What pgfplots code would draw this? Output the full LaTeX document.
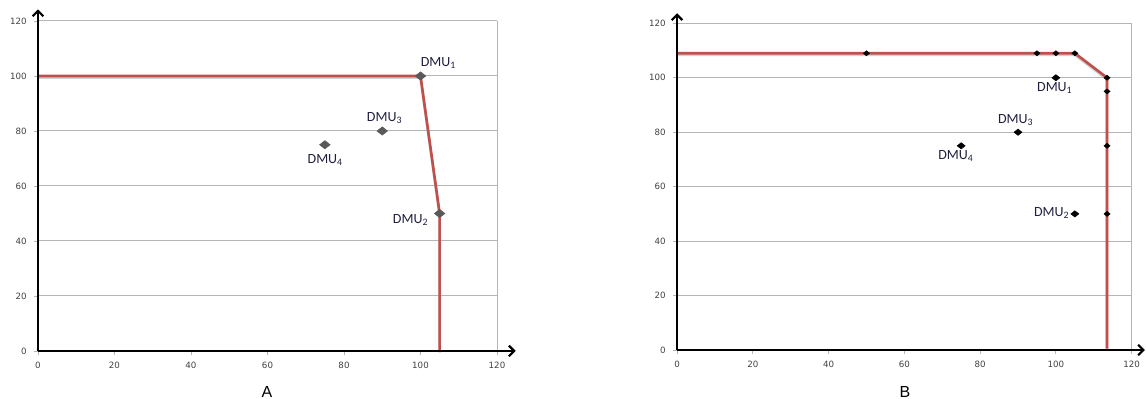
\documentclass[border=0pt]{standalone}
\usepackage{pgfplots}
\pgfplotsset{compat=1.18}
\usepackage{fontspec}
\setmainfont{Carlito}
\newfontfamily\tickfont{DejaVu Sans}
\newfontfamily\titlefont{Liberation Sans}
\usetikzlibrary{arrows.meta}
\definecolor{frontier}{HTML}{C0504D}
\definecolor{gridgray}{HTML}{B5B5B5}
\definecolor{ticktext}{HTML}{404040}
\definecolor{markgray}{HTML}{595959}
\definecolor{dmutext}{HTML}{1F1F3F}

\pgfplotsset{
  dea/.style={
    scale only axis, clip=false,
    xmin=0, xmax=120, ymin=0, ymax=120,
    xtick={0,20,...,120}, ytick={0,20,...,120},
    axis lines*=left, axis line style={draw=none},
    ymajorgrids, grid style={gridgray, line width=0.75pt},
    tick align=outside, major tick length=3pt,
    tick style={gridgray, line width=0.6pt},
    ticklabel style={font=\tickfont\fontsize{6.5}{7}\selectfont, text=ticktext},
    yticklabel style={xshift=-2pt},
    xticklabel style={yshift=-2pt},
    /pgf/number format/assume math mode=true,
    anchor=south west,
  },
}
\tikzset{dmu/.style={font=\fontsize{10.5}{12}\selectfont, text=dmutext, anchor=center}}

\begin{document}
\begin{tikzpicture}
\useasboundingbox (0,0) rectangle (859.5pt,299.25pt);

% ---------- A ----------
\begin{axis}[dea, at={(28.5pt,36pt)}, width=344.25pt, height=247.5pt]
  \draw[gridgray, line width=0.75pt] (axis cs:120,0) -- (axis cs:120,120);
  \addplot[black!30, line width=2pt, opacity=0.6, yshift=-1.2pt, forget plot] coordinates {(0,100) (100,100) (105,50) (105,0)};
  \addplot[frontier, line width=2pt, line join=round] coordinates {(0,100) (100,100) (105,50) (105,0)};
  \addplot[only marks, mark=diamond*, mark size=3.1pt, mark options={xscale=1.7, fill=markgray, draw=markgray}]
    coordinates {(100,100) (105,50) (90,80) (75,75)};
  \draw[black, line width=1.6pt, -{Straight Barb[length=4pt,width=8pt]}] (axis cs:0,0) -- (axis cs:124.9,0);
  \draw[black, line width=1.6pt, -{Straight Barb[length=4pt,width=8pt]}] (axis cs:0,0) -- (axis cs:0,124.2);
  \node[dmu] at (axis cs:104.7,104.7) {DMU\textsubscript{1}};
  \node[dmu] at (axis cs:90.6,84.7) {DMU\textsubscript{3}};
  \node[dmu] at (axis cs:75.1,69.5) {DMU\textsubscript{4}};
  \node[dmu] at (axis cs:97.4,47.6) {DMU\textsubscript{2}};
\end{axis}

% ---------- B ----------
\begin{axis}[dea, at={(507.75pt,36.75pt)}, width=341pt, height=245pt]
  \draw[gridgray, line width=0.75pt] (axis cs:120,0) -- (axis cs:120,120);
  \addplot[black!30, line width=2pt, opacity=0.6, yshift=-1.2pt, forget plot] coordinates {(0,109) (105,109) (113.5,100) (113.5,0.5)};
  \addplot[frontier, line width=2pt, line join=round] coordinates {(0,109) (105,109) (113.5,100) (113.5,0.5)};
  \addplot[only marks, mark=diamond*, mark size=1.9pt, mark options={xscale=1.6, fill=black, draw=black}]
    coordinates {(50,109) (95,109) (100,109) (105,109) (113.5,100) (113.5,95) (113.5,75) (113.5,50)};
  \addplot[only marks, mark=diamond*, mark size=2.35pt, mark options={xscale=1.7, fill=black, draw=black}]
    coordinates {(100,100) (90,80) (75,75) (105,50)};
  \draw[black, line width=1.6pt, -{Straight Barb[length=4pt,width=8pt]}] (axis cs:0,0) -- (axis cs:123.5,0);
  \draw[black, line width=1.6pt, -{Straight Barb[length=4pt,width=8pt]}] (axis cs:0,0) -- (axis cs:0,123.7);
  \node[dmu] at (axis cs:99.7,96.1) {DMU\textsubscript{1}};
  \node[dmu] at (axis cs:89.4,84.4) {DMU\textsubscript{3}};
  \node[dmu] at (axis cs:73.6,71.2) {DMU\textsubscript{4}};
  \node[dmu] at (axis cs:98.9,50.3) {DMU\textsubscript{2}};
\end{axis}

\node[font=\titlefont\fontsize{12}{14}\selectfont] at (200.25pt,5pt) {A};
\node[font=\titlefont\fontsize{12}{14}\selectfont] at (678.75pt,5pt) {B};
\end{tikzpicture}
\end{document}
